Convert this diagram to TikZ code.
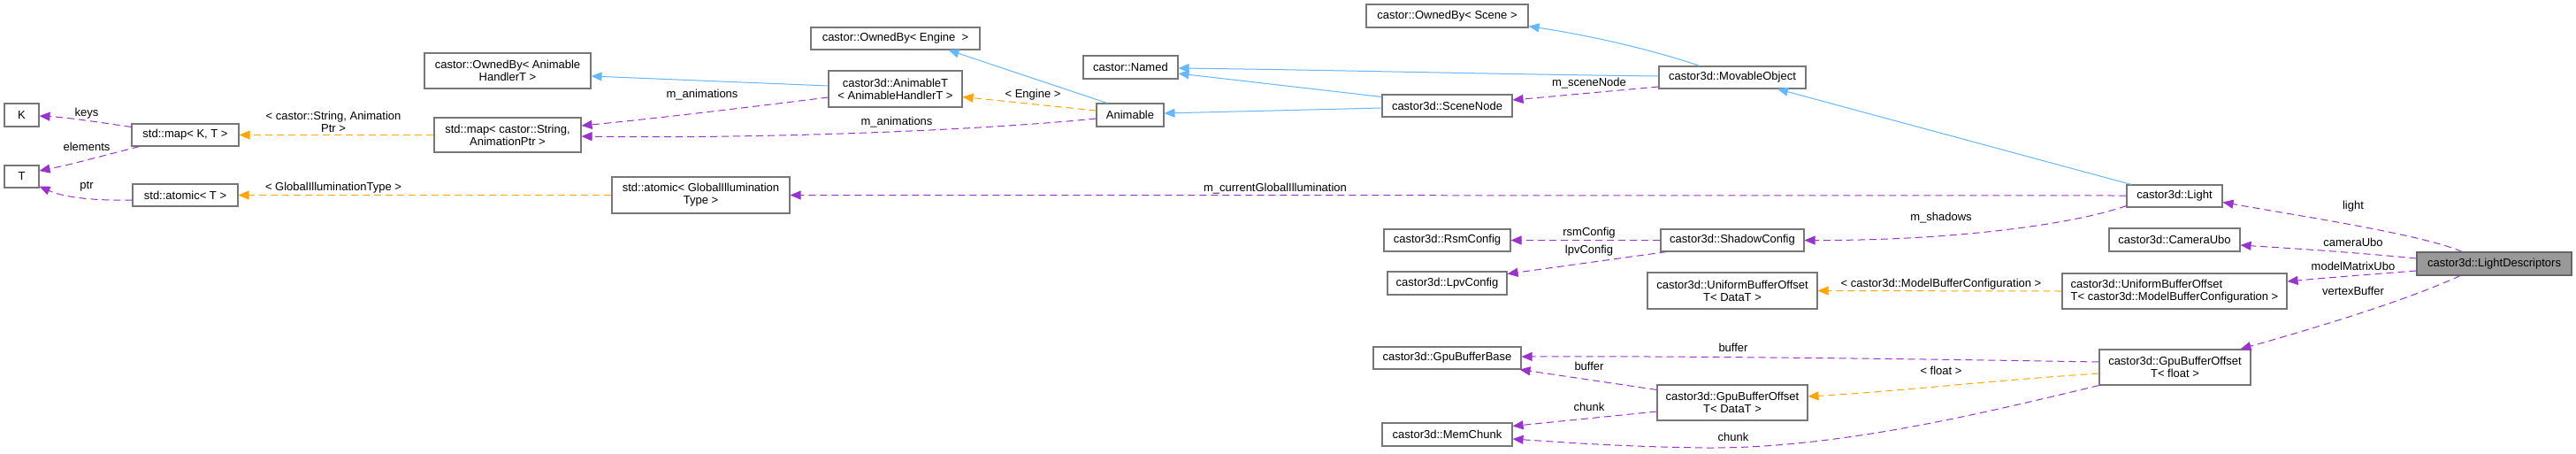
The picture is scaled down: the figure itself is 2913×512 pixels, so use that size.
\documentclass[tikz,border=0pt]{standalone}
\usepackage{fontspec}
\setmainfont{Liberation Sans}
\usetikzlibrary{arrows.meta,calc}
\definecolor{edgeblue}{HTML}{63B8FF}
\definecolor{edgepurple}{HTML}{9A32CD}
\definecolor{edgeorange}{HTML}{FFA500}
\definecolor{boxgray}{HTML}{777777}
\definecolor{fillgray}{HTML}{999999}
\begin{document}
\begin{tikzpicture}[x=1pt,y=-1pt,
  font=\fontsize{13}{14}\selectfont,
  box/.style={draw=boxgray, line width=1.1pt, fill=white, inner sep=0pt, align=center, text=black},
  tip/.style={-{Triangle[length=12pt,width=10pt]}},
  inherit/.style={draw=edgeblue, line width=1pt, tip},
  usage/.style={draw=edgepurple, line width=1pt, dash pattern=on 8pt off 5pt, tip},
  templ/.style={draw=edgeorange, line width=1pt, dash pattern=on 8pt off 5pt, tip},
  lbl/.style={inner sep=0pt, align=center, text=black},
]
\useasboundingbox (0,0) rectangle (2913,512);
\fill[white] (0,0) rectangle (2913,512);

% nodes
\node[box, minimum width=39pt, minimum height=26pt] (K) at (24.5,130) {K};
\node[box, minimum width=39pt, minimum height=25pt] (T) at (24.5,199.5) {T};
\node[box, minimum width=121pt, minimum height=25pt] (mapKT) at (209.5,152.5) {std::map< K, T >};
\node[box, minimum width=119pt, minimum height=25pt] (atomicT) at (209.5,220.5) {std::atomic< T >};
\node[box, minimum width=188pt, minimum height=40pt] (ownedAH) at (574,80) {castor::OwnedBy< Animable\\HandlerT >};
\node[box, minimum width=166pt, minimum height=39pt] (mapSA) at (574,152.5) {std::map< castor::String,\\AnimationPtr >};
\node[box, minimum width=201pt, minimum height=41pt] (atomicGI) at (792.5,220.5) {std::atomic< GlobalIllumination\\Type >};
\node[box, minimum width=191pt, minimum height=25pt] (ownedE) at (1012.5,43.5) {castor::OwnedBy< Engine~ >};
\node[box, minimum width=151pt, minimum height=41pt] (animT) at (1012.5,100.5) {castor3d::AnimableT\\< AnimableHandlerT >};
\node[box, minimum width=107pt, minimum height=26pt] (named) at (1278.5,76) {castor::Named};
\node[box, minimum width=76pt, minimum height=26pt] (animable) at (1278,130) {Animable};
\node[box, minimum width=183pt, minimum height=26pt] (ownedS) at (1636.5,18) {castor::OwnedBy< Scene >};
\node[box, minimum width=147pt, minimum height=25pt] (sceneNode) at (1636.5,119.5) {castor3d::SceneNode};
\node[box, minimum width=143pt, minimum height=25pt] (rsm) at (1636.5,271.5) {castor3d::RsmConfig};
\node[box, minimum width=135pt, minimum height=26pt] (lpv) at (1636.5,320) {castor3d::LpvConfig};
\node[box, minimum width=167pt, minimum height=25pt] (gbb) at (1636.5,404.5) {castor3d::GpuBufferBase};
\node[box, minimum width=147pt, minimum height=26pt] (mem) at (1636.5,491) {castor3d::MemChunk};
\node[box, minimum width=166pt, minimum height=25pt] (movable) at (1959,87.5) {castor3d::MovableObject};
\node[box, minimum width=162pt, minimum height=25pt] (shadow) at (1959,271.5) {castor3d::ShadowConfig};
\node[box, minimum width=192pt, minimum height=41pt] (uboD) at (1959,328.5) {castor3d::UniformBufferOffset\\T< DataT >};
\node[box, minimum width=170pt, minimum height=40pt] (gboD) at (1959,455) {castor3d::GpuBufferOffset\\T< DataT >};
\node[box, minimum width=108pt, minimum height=25pt] (light) at (2459,221.5) {castor3d::Light};
\node[box, minimum width=148pt, minimum height=26pt] (camera) at (2459,271) {castor3d::CameraUbo};
\node[box, minimum width=254pt, minimum height=40pt, align=left] (uboM) at (2459,329) {castor3d::UniformBufferOffset\\T< castor3d::ModelBufferConfiguration >};
\node[box, minimum width=171pt, minimum height=40pt] (gboF) at (2459.5,415) {castor3d::GpuBufferOffset\\T< float >};
\node[box, fill=fillgray, draw=boxgray!85!black, minimum width=175pt, minimum height=26pt] (lightDesc) at (2820.5,298) {castor3d::LightDescriptors};

% edges: left part
\draw[usage] ($(mapKT.north west)+(0,4)$) .. controls (110,138) and (80,133) .. ($(K.east)+(0,1)$);
\node[lbl] (lkeys) at (98,128) {keys};
\draw[usage] ($(mapKT.south west)+(9,0)$) .. controls (120,175) and (80,186) .. ($(T.east)+(0,-6.5)$);
\node[lbl] (lelem) at (98,166) {elements};
\draw[usage] ($(atomicT.west)+(0,5.5)$) .. controls (100,227) and (70,222) .. ($(T.south east)+(0,-2)$);
\node[lbl] (lptr) at (98,211) {ptr};
\draw[templ] (mapSA.west) -- (mapKT.east);
\node[lbl] (lstr) at (377,137.5) {< castor::String, Animation\\Ptr >};
\draw[templ] (atomicGI.west) -- (atomicT.east);
\node[lbl] (lgit) at (377,212) {< GlobalIlluminationType >};

% animation part
\draw[inherit] ($(animT.west)+(0,-3.5)$) -- ($(ownedAH.east)+(0,6)$);
\draw[usage] ($(animT.west)+(0,9.5)$) .. controls (840,122) and (740,134) .. ($(mapSA.east)+(0,-10.5)$);
\node[lbl] (lanim1) at (794,107) {m\_animations};
\draw[usage] ($(animable.west)+(0,4)$) .. controls (1100,148) and (850,157) .. ($(mapSA.east)+(0,1.5)$);
\node[lbl] (lanim2) at (1014,138) {m\_animations};
\draw[templ] ($(animable.west)+(0,-5)$) -- ($(animT.east)+(0,9)$);
\node[lbl] (leng) at (1168,107) {< Engine >};
\draw[inherit] ($(animable.north)+(-26,0)$) -- ($(ownedE.south east)+(-36,0)$);
\draw[inherit] ($(sceneNode.west)+(0,2.5)$) -- ($(animable.east)+(0,-2)$);
\draw[inherit] ($(sceneNode.north west)+(0,3)$) -- ($(named.east)+(0,7)$);
\draw[inherit] ($(movable.west)+(0,-1.5)$) .. controls (1700,84) and (1500,79) .. ($(named.east)+(0,1)$);
\draw[inherit] ($(movable.north)+(-37,0)$) .. controls (1880,60) and (1810,42) .. ($(ownedS.south east)+(0,-2)$);
\draw[usage] ($(movable.west)+(0,10.5)$) -- ($(sceneNode.east)+(0,-6.5)$);
\node[lbl] (lscn) at (1797,94) {m\_sceneNode};

% light part
\draw[inherit] ($(light.north)+(-49,0)$) -- ($(movable.south)+(51,0)$);
\draw[usage] ($(light.west)+(0,-0.5)$) -- (atomicGI.east);
\node[lbl] (lcgi) at (1442,213) {m\_currentGlobalIllumination};
\draw[usage] ($(light.south west)+(0,-2)$) .. controls (2340,255) and (2200,272) .. (shadow.east);
\node[lbl] (lshad) at (2195,246) {m\_shadows};
\draw[usage] (shadow.west) -- (rsm.east);
\node[lbl] (lrsm) at (1797,263) {rsmConfig};
\draw[usage] ($(shadow.south west)+(7,0)$) -- ($(lpv.north east)+(0,3)$);
\node[lbl] (llpv) at (1797,283) {lpvConfig};

% light descriptors
\draw[usage] ($(lightDesc.north)+(-36.5,0)$) .. controls (2740,265) and (2600,244) .. ($(light.east)+(0,7)$);
\node[lbl] (llight) at (2661,233) {light};
\draw[usage] ($(lightDesc.west)+(0,-6)$) .. controls (2650,284) and (2580,280) .. ($(camera.east)+(0,6)$);
\node[lbl] (lcam) at (2661,274) {cameraUbo};
\draw[usage] ($(lightDesc.west)+(0,8)$) .. controls (2680,310) and (2630,314) .. ($(uboM.east)+(0,-11)$);
\node[lbl] (lmmu) at (2661,301) {modelMatrixUbo};
\draw[usage] ($(lightDesc.south)+(-38.5,0)$) .. controls (2720,340) and (2620,370) .. ($(gboF.north east)+(-12,0)$);
\node[lbl] (lvb) at (2661,329) {vertexBuffer};
\draw[templ] (uboM.west) -- (uboD.east);
\node[lbl] (lmbc) at (2195,321) {< castor3d::ModelBufferConfiguration >};

% buffers
\draw[usage] ($(gboF.west)+(0,-6)$) .. controls (2200,406) and (1900,402) .. ($(gbb.east)+(0,-1.5)$);
\node[lbl] (lbuf1) at (1960,393) {buffer};
\draw[templ] ($(gboF.west)+(0,7)$) .. controls (2250,430) and (2150,442) .. ($(gboD.east)+(0,-7)$);
\node[lbl] (lflt) at (2195,419) {< float >};
\coordinate (chunkmid) at (1930,506);
\draw[usage] (gboF.south west) .. controls (2250,465) and (2080,507) .. (chunkmid) .. controls (1840,505) and (1770,500) .. ($(mem.east)+(0,5)$);
\node[lbl] (lchk1) at (1960,494) {chunk};
\draw[usage] ($(gboD.north west)+(0,6)$) -- ($(gbb.south east)+(-2,0)$);
\node[lbl] (lbuf2) at (1797,414) {buffer};
\draw[usage] ($(gboD.west)+(0,10)$) -- ($(mem.north east)+(0,4)$);
\node[lbl] (lchk2) at (1797,460) {chunk};
\end{tikzpicture}
\end{document}
